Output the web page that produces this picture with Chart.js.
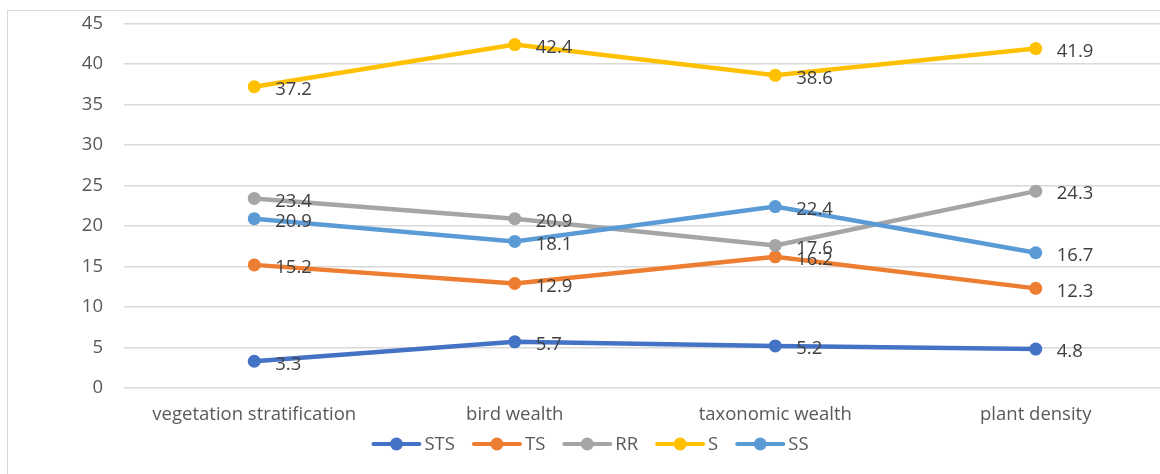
<!DOCTYPE html>
<html>
<head>
<meta charset="utf-8">
<script src="https://cdn.jsdelivr.net/npm/chart.js@4/dist/chart.umd.min.js"></script>
<style>
    html, body { margin: 0; padding: 0; background: #fff; overflow: hidden; }
    #wrap { position: relative; width: 1180px; height: 474px; }
</style>
</head>
<body>
<div id="wrap"><canvas id="chart" width="1180" height="474"></canvas></div>
<script>
const categories = ['vegetation stratification', 'bird wealth', 'taxonomic wealth', 'plant density'];
const seriesNames = ['STS', 'TS', 'RR', 'S', 'SS'];
const stsValues = [3.3, 5.7, 5.2, 4.8];
const tsValues = [15.2, 12.9, 16.2, 12.3];
const rrValues = [23.4, 20.9, 17.6, 24.3];
const sValues = [37.2, 42.4, 38.6, 41.9];
const ssValues = [20.9, 18.1, 22.4, 16.7];
const yTicks = [0, 5, 10, 15, 20, 25, 30, 35, 40, 45];

const colors = ['#4472C4', '#ED7D31', '#A5A5A5', '#FFC000', '#5B9BD5'];
const FONT = '"Open Sans", "Noto Sans", sans-serif';
const FSIZE = 18.5;

const allValues = [stsValues, tsValues, rrValues, sValues, ssValues];

// labels to the right of each point, like excel's "right" position
const valueLabels = {
    id: 'valueLabels',
    afterDatasetsDraw(chart) {
        const ctx = chart.ctx;
        ctx.save();
        ctx.font = FSIZE + 'px ' + FONT;
        ctx.fillStyle = '#404040';
        ctx.textAlign = 'left';
        ctx.textBaseline = 'middle';
        chart.data.datasets.forEach((ds, i) => {
            const meta = chart.getDatasetMeta(i);
            meta.data.forEach((pt, j) => {
                ctx.fillText(ds.data[j].toFixed(1), pt.x + 21, pt.y + 3);
            });
        });
        ctx.restore();
    }
};

// outer border + legend with line/marker symbols
const frameAndLegend = {
    id: 'frameAndLegend',
    beforeDraw(chart) {
        const ctx = chart.ctx;
        ctx.save();
        ctx.fillStyle = '#fff';
        ctx.fillRect(0, 0, chart.width, chart.height);
        ctx.strokeStyle = '#D9D9D9';
        ctx.lineWidth = 1;
        ctx.strokeRect(7.5, 10.5, 1300, 600);
        ctx.restore();
    },
    afterDraw(chart) {
        const ctx = chart.ctx;
        ctx.save();
        ctx.font = FSIZE + 'px ' + FONT;
        const lineLen = 50, gap = 3, spacing = 17;
        const widths = seriesNames.map(n => lineLen + gap + ctx.measureText(n).width);
        const total = widths.reduce((a, b) => a + b, 0) + spacing * (seriesNames.length - 1);
        let x = 590 - total / 2;
        const y = 444;
        seriesNames.forEach((name, i) => {
            ctx.strokeStyle = colors[i];
            ctx.lineWidth = 4;
            ctx.lineCap = 'round';
            ctx.beginPath();
            ctx.moveTo(x + 2, y);
            ctx.lineTo(x + lineLen - 2, y);
            ctx.stroke();
            ctx.fillStyle = colors[i];
            ctx.beginPath();
            ctx.arc(x + lineLen / 2, y, 6.5, 0, Math.PI * 2);
            ctx.fill();
            ctx.fillStyle = '#595959';
            ctx.textBaseline = 'middle';
            ctx.fillText(name, x + lineLen + gap, y + 1);
            x += widths[i] + spacing;
        });
        ctx.restore();
    }
};

const datasets = allValues.map((vals, i) => ({
    label: seriesNames[i],
    data: vals,
    borderColor: colors[i],
    backgroundColor: colors[i],
    borderWidth: 4.5,
    pointRadius: 6.5,
    pointBorderWidth: 0,
    pointHoverRadius: 6.5,
    tension: 0,
    order: seriesNames.length - i
}));

new Chart(document.getElementById('chart'), {
    type: 'line',
    data: { labels: categories, datasets: datasets },
    options: {
        responsive: false,
        animation: false,
        events: [],
        layout: { padding: { top: 23.5, right: 14, left: 0, bottom: 0 } },
        plugins: {
            legend: { display: false },
            tooltip: { enabled: false }
        },
        scales: {
            x: {
                offset: true,
                grid: { display: false, drawTicks: false },
                border: { display: false },
                ticks: {
                    color: '#595959',
                    font: { family: FONT, size: FSIZE },
                    padding: 16,
                    maxRotation: 0,
                    autoSkip: false
                },
                afterFit(scale) { scale.height = 86; }
            },
            y: {
                min: 0,
                max: 45,
                afterBuildTicks(scale) { scale.ticks = yTicks.map(v => ({ value: v })); },
                grid: { color: '#D9D9D9', lineWidth: 1.5, drawTicks: false },
                border: { display: false },
                ticks: {
                    color: '#595959',
                    font: { family: FONT, size: FSIZE },
                    padding: 21
                },
                afterFit(scale) {
                    scale.width = 124;
                    scale.paddingTop = 0;
                    scale.paddingBottom = 0;
                }
            }
        }
    },
    plugins: [frameAndLegend, valueLabels]
});
</script>
</body>
</html>
